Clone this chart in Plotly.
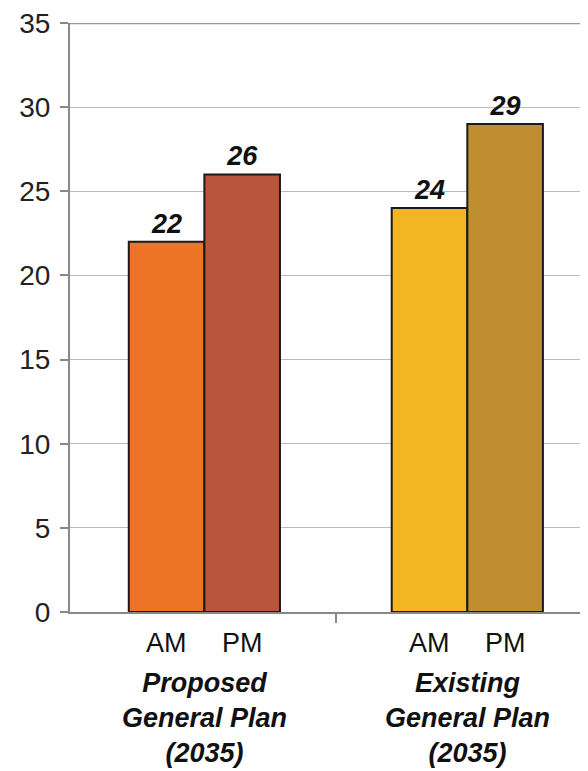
import plotly.graph_objects as go

groups = ["Proposed<br>General Plan<br>(2035)", "Existing<br>General Plan<br>(2035)"]
periods = ["AM", "PM"]
am_values = [22, 24]
pm_values = [26, 29]
am_colors = ["#EC7424", "#F4B522"]
pm_colors = ["#B9553A", "#BF8E2E"]
y_ticks = [0, 5, 10, 15, 20, 25, 30, 35]

FONT = "Liberation Sans, Arial, sans-serif"
BARGAP = 0.425
xidx = [0, 1]

fig = go.Figure()
for name, vals, cols in [("AM", am_values, am_colors), ("PM", pm_values, pm_colors)]:
    fig.add_trace(go.Bar(
        x=xidx, y=vals, name=name,
        marker=dict(color=cols, line=dict(color="#1a1a1a", width=2)),
        text=[str(v) for v in vals], textposition="outside",
        textfont=dict(family=FONT, size=27, color="#111", weight="bold", style="italic"),
        cliponaxis=False,
    ))

w = 1 - BARGAP
annotations = []
for i, g in enumerate(groups):
    for j, p in enumerate(periods):
        annotations.append(dict(
            x=i + (j - 0.5) * w / 2, y=0, xref="x", yref="y",
            text=p, showarrow=False, yanchor="middle", yshift=-31,
            font=dict(family=FONT, size=27, color="#111"),
        ))
    annotations.append(dict(
        x=i, y=0, xref="x", yref="y", text=g, showarrow=False,
        yanchor="top", yshift=-54,
        font=dict(family=FONT, size=27, color="#111", weight="bold", style="italic"),
    ))

fig.update_layout(
    width=580, height=763,
    margin=dict(l=62, r=0, t=12, b=159),
    plot_bgcolor="white", paper_bgcolor="white",
    barmode="group", bargap=BARGAP, bargroupgap=0,
    showlegend=False,
    annotations=annotations,
    xaxis=dict(
        range=[-0.511, 1.459], tickvals=[0.5], ticktext=[""],
        ticks="outside", ticklen=9, tickcolor="#888", tickwidth=1.5,
        showgrid=False, zeroline=False,
        showline=True, linecolor="#888", linewidth=2,
    ),
    yaxis=dict(
        range=[0, 35], tickvals=y_ticks, ticktext=[str(t) for t in y_ticks],
        ticks="outside", ticklen=8, tickcolor="#888", tickwidth=1.5,
        showgrid=True, gridcolor="#c2b9b9", gridwidth=1.2,
        zeroline=False, showline=True, linecolor="#888", linewidth=2,
        tickfont=dict(family=FONT, size=28, color="#222"),
        ticklabelstandoff=4, ticklabeloverflow="allow",
    ),
    shapes=[dict(type="line", xref="paper", yref="y", x0=0, x1=1, y0=35, y1=35,
                 line=dict(color="#999", width=2.5), layer="below")],
)

fig.write_html("out.html")
